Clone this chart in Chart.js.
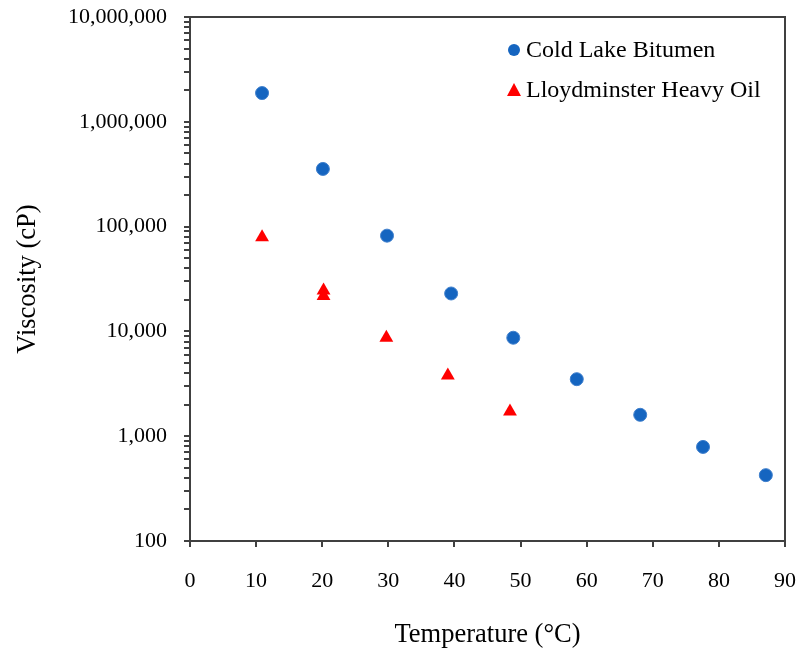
<!DOCTYPE html>
<html>
<head>
<meta charset="utf-8">
<script src="https://cdn.jsdelivr.net/npm/chart.js@4/dist/chart.umd.min.js"></script>
<style>
html,body{margin:0;padding:0;background:#fff;}
#wrap{width:800px;height:653px;position:relative;}
</style>
</head>
<body>
<div id="wrap"><canvas id="c" width="800" height="653"></canvas></div>
<script>
// ---- data ----
const coldLakeTemp = [10.9, 20.1, 29.8, 39.5, 48.9, 58.5, 68.1, 77.6, 87.1];
const coldLakeVisc = [1880000, 355000, 82000, 23000, 8700, 3500, 1600, 790, 425];
const lloydTemp = [10.9, 20.2, 20.2, 29.7, 39.0, 48.4];
const lloydVisc = [79000, 24500, 21800, 8700, 3800, 1720];
const xTickLabels = ['0','10','20','30','40','50','60','70','80','90'];
const yTickValues = [100, 1000, 10000, 100000, 1000000, 10000000];
const yTickLabels = ['100','1,000','10,000','100,000','1,000,000','10,000,000'];
const seriesNames = ['Cold Lake Bitumen', 'Lloydminster Heavy Oil'];

const FONT = '"Liberation Serif", "Times New Roman", serif';
const AXIS = '#404040';

const toPts = (xs, ys) => xs.map((x, i) => ({x: x, y: ys[i]}));

const framePlugin = {
  id: 'frame',
  afterDraw(chart) {
    const {ctx, chartArea: a} = chart;
    ctx.save();
    ctx.strokeStyle = AXIS;
    ctx.lineWidth = 2;
    ctx.beginPath();
    ctx.moveTo(a.left, a.top);
    ctx.lineTo(a.right, a.top);
    ctx.lineTo(a.right, a.bottom);
    ctx.stroke();
    // legend
    const items = [
      {y: 50, ds: chart.data.datasets[0]},
      {y: 90, ds: chart.data.datasets[1]}
    ];
    ctx.font = '24px ' + FONT;
    ctx.textBaseline = 'middle';
    ctx.textAlign = 'left';
    items.forEach(it => {
      ctx.fillStyle = it.ds.backgroundColor;
      ctx.beginPath();
      if (it.ds.pointStyle === 'circle') {
        ctx.arc(514, it.y, 6, 0, Math.PI * 2);
      } else {
        ctx.moveTo(514, it.y - 7);
        ctx.lineTo(521, it.y + 6);
        ctx.lineTo(507, it.y + 6);
        ctx.closePath();
      }
      ctx.fill();
      ctx.fillStyle = '#000';
      ctx.fillText(it.ds.label, 526, it.y + 1);
    });
    ctx.restore();
  }
};

new Chart(document.getElementById('c'), {
  type: 'scatter',
  data: {
    datasets: [
      {
        label: seriesNames[0],
        data: toPts(coldLakeTemp, coldLakeVisc),
        pointStyle: 'circle',
        pointRadius: 6.5,
        backgroundColor: '#1565C0',
        borderColor: '#3F7FCC',
        borderWidth: 1
      },
      {
        label: seriesNames[1],
        data: toPts(lloydTemp, lloydVisc),
        pointStyle: 'triangle',
        pointRadius: 8,
        backgroundColor: '#FF0000',
        borderColor: '#FF0000',
        borderWidth: 0
      }
    ]
  },
  options: {
    responsive: false,
    animation: false,
    events: [],
    layout: {padding: {left: 0, right: 15, top: 17, bottom: 0}},
    plugins: {legend: {display: false}, tooltip: {enabled: false}},
    scales: {
      x: {
        type: 'linear',
        min: 0, max: 90,
        afterBuildTicks(s) { s.ticks = xTickLabels.map(v => ({value: Number(v)})); },
        afterFit(s) { s.height = 112; s.paddingLeft = 0; s.paddingRight = 0; },
        ticks: {
          color: '#000',
          font: {family: FONT, size: 22},
          padding: 21,
          maxRotation: 0,
          callback: (v, i) => xTickLabels[i]
        },
        grid: {display: true, drawOnChartArea: false, tickLength: 6, color: AXIS, lineWidth: 2},
        border: {display: true, color: AXIS, width: 2},
        title: {
          display: true,
          text: 'Temperature (°C)',
          color: '#000',
          font: {family: FONT, size: 26.5},
          padding: {top: 0, bottom: 2}
        }
      },
      y: {
        type: 'logarithmic',
        min: 100, max: 10000000,
        afterBuildTicks(s) {
          const t = [];
          for (let e = 2; e <= 7; e++) {
            for (let m = 1; m <= 9; m++) {
              const v = m * Math.pow(10, e);
              if (v <= 10000000) t.push({value: v, major: m === 1});
            }
          }
          s.ticks = t;
        },
        afterFit(s) { s.width = 190; s.paddingTop = 0; s.paddingBottom = 0; },
        ticks: {
          color: '#000',
          font: {family: FONT, size: 22},
          padding: 17,
          autoSkip: false,
          callback: (v) => {
            const i = yTickValues.indexOf(v);
            return i >= 0 ? yTickLabels[i] : '';
          }
        },
        grid: {display: true, drawOnChartArea: false, tickLength: 6, color: AXIS, lineWidth: 2},
        border: {display: true, color: AXIS, width: 2},
        title: {
          display: true,
          text: 'Viscosity (cP)',
          color: '#000',
          font: {family: FONT, size: 26.5},
          padding: {top: 12, bottom: 0}
        }
      }
    }
  },
  plugins: [framePlugin]
});
</script>
</body>
</html>
